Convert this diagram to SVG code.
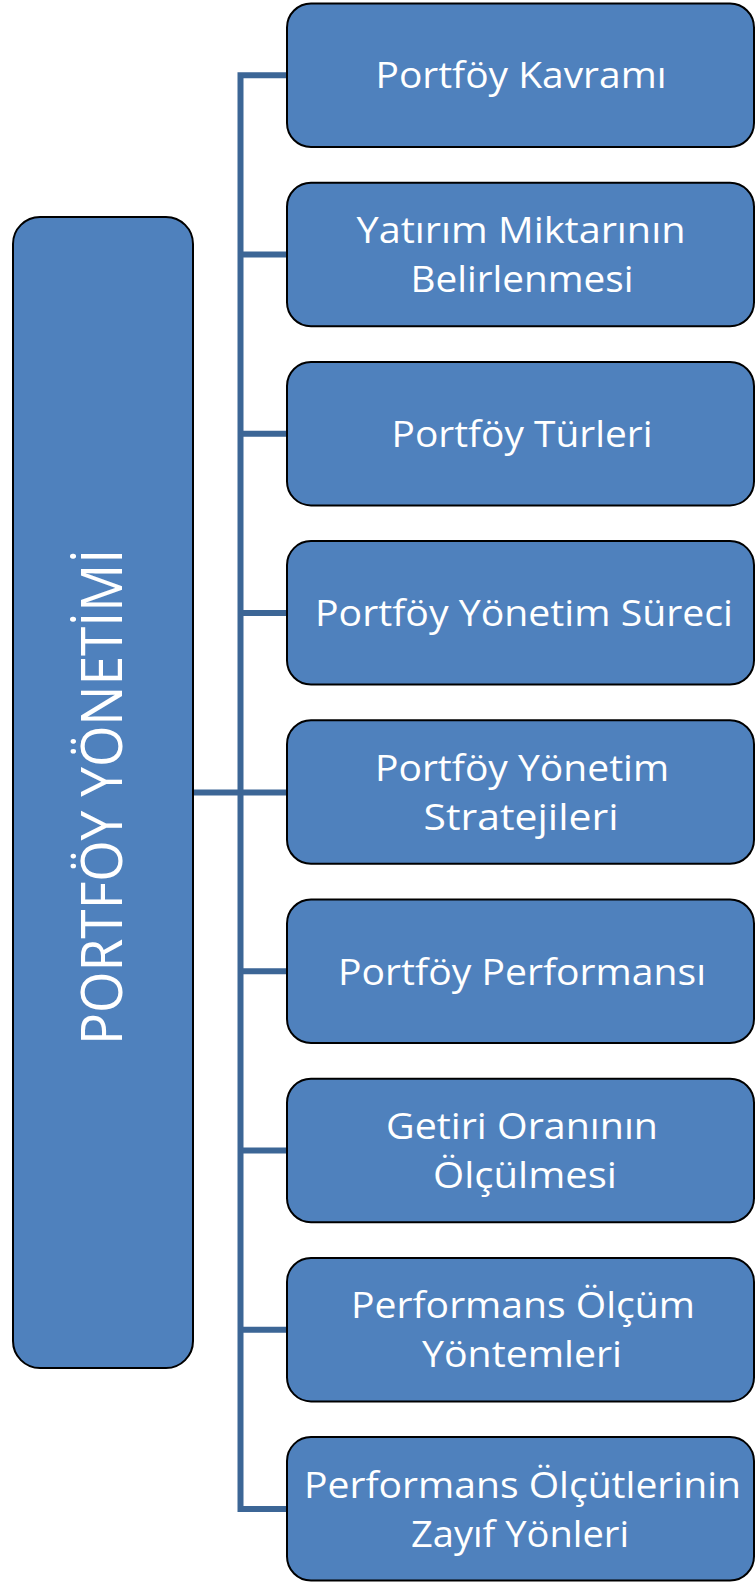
<svg xmlns="http://www.w3.org/2000/svg" width="755" height="1582" viewBox="0 0 755 1582">
<style>
.box{fill:#4f81bd;stroke:#000;stroke-width:2}
.t{fill:#fff;font-family:"Open Sans","DejaVu Sans",sans-serif;font-size:37px;text-anchor:middle}
.tv{fill:#fff;font-family:"Open Sans","DejaVu Sans",sans-serif;font-size:56px;text-anchor:middle}
.c{fill:none;stroke:#3c6696;stroke-width:6}
</style>
<rect width="755" height="1582" fill="#fff"/>
<g id="connectors">
<path class="c" d="M287,75.3 H240.5 V1508.9 H287"/>
<path class="c" d="M240.5,254.5 H287 M240.5,433.7 H287 M240.5,612.9 H287 M193,792.5 H287 M240.5,971.3 H287 M240.5,1150.5 H287 M240.5,1329.7 H287"/>
</g>
<g id="root">
<rect class="box" x="13" y="217" width="180" height="1151" rx="27"/>
<text class="tv" transform="translate(122,797) rotate(-90)" textLength="496" lengthAdjust="spacingAndGlyphs">PORTFÖY YÖNETİMİ</text>
</g>
<g id="n1">
<rect class="box" x="287" y="3.5" width="467" height="143.5" rx="24"/>
<text class="t" x="521" y="88.3" textLength="291" lengthAdjust="spacingAndGlyphs">Portföy Kavramı</text>
</g>
<g id="n2">
<rect class="box" x="287" y="182.7" width="467" height="143.5" rx="24"/>
<text class="t" x="521" y="243" textLength="329" lengthAdjust="spacingAndGlyphs">Yatırım Miktarının</text>
<text class="t" x="522" y="292" textLength="223" lengthAdjust="spacingAndGlyphs">Belirlenmesi</text>
</g>
<g id="n3">
<rect class="box" x="287" y="361.9" width="467" height="143.5" rx="24"/>
<text class="t" x="522" y="446.7" textLength="261" lengthAdjust="spacingAndGlyphs">Portföy Türleri</text>
</g>
<g id="n4">
<rect class="box" x="287" y="541.1" width="467" height="143.5" rx="24"/>
<text class="t" x="524" y="625.9" textLength="418" lengthAdjust="spacingAndGlyphs">Portföy Yönetim  Süreci</text>
</g>
<g id="n5">
<rect class="box" x="287" y="720.3" width="467" height="143.5" rx="24"/>
<text class="t" x="522" y="780.6" textLength="294" lengthAdjust="spacingAndGlyphs">Portföy Yönetim</text>
<text class="t" x="521" y="829.6" textLength="195" lengthAdjust="spacingAndGlyphs">Stratejileri</text>
</g>
<g id="n6">
<rect class="box" x="287" y="899.5" width="467" height="143.5" rx="24"/>
<text class="t" x="522" y="984.5" textLength="368" lengthAdjust="spacingAndGlyphs">Portföy Performansı</text>
</g>
<g id="n7">
<rect class="box" x="287" y="1078.7" width="467" height="143.5" rx="24"/>
<text class="t" x="522" y="1139" textLength="272" lengthAdjust="spacingAndGlyphs">Getiri Oranının</text>
<text class="t" x="525" y="1188" textLength="184" lengthAdjust="spacingAndGlyphs">Ölçülmesi</text>
</g>
<g id="n8">
<rect class="box" x="287" y="1257.9" width="467" height="143.5" rx="24"/>
<text class="t" x="523" y="1318.2" textLength="344" lengthAdjust="spacingAndGlyphs">Performans Ölçüm</text>
<text class="t" x="522" y="1367.2" textLength="200" lengthAdjust="spacingAndGlyphs">Yöntemleri</text>
</g>
<g id="n9">
<rect class="box" x="287" y="1437.1" width="467" height="143.5" rx="24"/>
<text class="t" x="522.5" y="1498" textLength="437" lengthAdjust="spacingAndGlyphs">Performans Ölçütlerinin</text>
<text class="t" x="520" y="1547" textLength="218" lengthAdjust="spacingAndGlyphs">Zayıf Yönleri</text>
</g>
</svg>
